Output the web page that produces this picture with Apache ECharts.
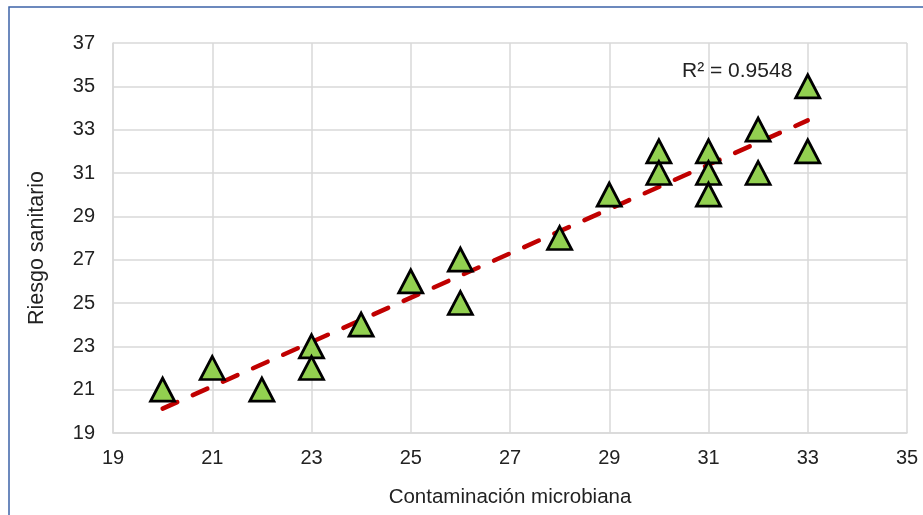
<!DOCTYPE html>
<html><head><meta charset="utf-8">
<script src="https://cdn.jsdelivr.net/npm/echarts@6/dist/echarts.min.js"></script>
<style>html,body{margin:0;padding:0;background:#fff}#c{width:923px;height:515px}</style>
</head><body><div id="c"></div>
<script>
const xValues = [20,21,22,23,23,24,25,26,26,28,29,30,30,31,31,31,32,32,33,33];
const yValues = [21,22,21,23,22,24,26,27,25,28,30,32,31,32,31,30,33,31,35,32];
const xTicks = [19,21,23,25,27,29,31,33,35];
const yTicks = [19,21,23,25,27,29,31,33,35,37];
const r2Label = 'R² = 0.9548';
const xName = 'Contaminación microbiana';
const yName = 'Riesgo sanitario';

// linear regression for trendline
const n = xValues.length;
const mx = xValues.reduce((a,b)=>a+b,0)/n;
const my = yValues.reduce((a,b)=>a+b,0)/n;
let sxy=0, sxx=0;
for (let i=0;i<n;i++){ sxy+=(xValues[i]-mx)*(yValues[i]-my); sxx+=(xValues[i]-mx)**2; }
const slope = sxy/sxx, icpt = my - slope*mx;
const xmin = Math.min(...xValues), xmax = Math.max(...xValues);
const trend = [[xmin, icpt+slope*xmin],[xmax, icpt+slope*xmax]];

const font = 'Liberation Sans, Arial, Helvetica, sans-serif';
const chart = echarts.init(document.getElementById('c'), null, {renderer:'canvas'});
chart.setOption({
  animation:false,
  backgroundColor:'#fff',
  grid:{left:113,right:16,top:43,bottom:82},
  xAxis:{type:'value',min:19,max:35,interval:2,
    name:xName,nameLocation:'middle',nameGap:54,
    nameTextStyle:{fontFamily:font,fontSize:20.5,color:'#222'},
    axisLine:{show:true,lineStyle:{color:'#d9d9d9',width:1.5}},
    axisTick:{show:false},
    axisLabel:{fontFamily:font,fontSize:20,color:'#222',margin:15},
    splitLine:{show:true,lineStyle:{color:'#d9d9d9',width:1.5}}},
  yAxis:{type:'value',min:19,max:37,interval:2,
    axisLine:{show:true,lineStyle:{color:'#d9d9d9',width:1.5}},
    axisTick:{show:false},
    axisLabel:{fontFamily:font,fontSize:20,color:'#222',margin:18},
    splitLine:{show:true,lineStyle:{color:'#d9d9d9',width:1.5}}},
  series:[
    {type:'line',data:trend,symbol:'none',z:3,
     lineStyle:{color:'#c00000',width:4.5,type:[16,17],cap:'round'}},
    {type:'scatter',data:xValues.map((x,i)=>[x,yValues[i]]),symbol:'triangle',symbolSize:[24,23],z:4,
     itemStyle:{color:'#92d050',borderColor:'#000',borderWidth:2.8,opacity:1}}
  ],
  graphic:[
    {type:'rect',shape:{x:9,y:7,width:930,height:530},style:{fill:'none',stroke:'#3d63a8',lineWidth:1.5},z:100},
    {type:'text',left:682,top:61,style:{text:r2Label,font:'21px '+font,fill:'#222'}},
    {type:'text',x:37,y:248,rotation:Math.PI/2,
     style:{text:yName,font:'21.5px '+font,fill:'#222',align:'center',verticalAlign:'middle'}}
  ]
});
</script></body></html>
